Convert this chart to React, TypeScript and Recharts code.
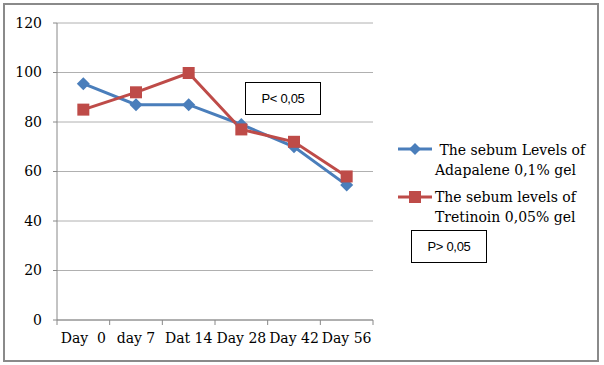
import { LineChart, Line, XAxis, YAxis, CartesianGrid } from 'recharts';

const days = ['Day  0', 'day 7', 'Dat 14', 'Day 28', 'Day 42', 'Day 56'];
const adapalene = [95.5, 87, 87, 79, 70, 54.5];
const tretinoin = [85, 92, 99.8, 77, 72, 58];
const yTicks = [0, 20, 40, 60, 80, 100, 120];

const data = days.map((d, i) => ({ day: d, adapalene: adapalene[i], tretinoin: tretinoin[i] }));

const BLUE = '#4a7ebb';
const RED = '#be4b48';
const SERIF = '"DejaVu Serif", serif';
const SANS = '"Liberation Sans", Arial, sans-serif';
const HALF_BAND = 316 / 12;

const Diamond = (props: any) => {
    const { cx, cy, index } = props;
    const r = 6.5;
    return (
        <polygon
            key={`dia-${index}`}
            points={`${cx},${cy - r} ${cx + r},${cy} ${cx},${cy + r} ${cx - r},${cy}`}
            fill={BLUE}
        />
    );
};

const Square = (props: any) => {
    const { cx, cy, index } = props;
    const s = 6;
    return <rect key={`sq-${index}`} x={cx - s} y={cy - s} width={s * 2} height={s * 2} fill={RED} />;
};

const XTick = (props: any) => {
    const { x, y, payload, index } = props;
    return (
        <g>
            <line x1={x - HALF_BAND} y1={y} x2={x - HALF_BAND} y2={y + 5} stroke="#888" />
            {index === days.length - 1 && (
                <line x1={x + HALF_BAND} y1={y} x2={x + HALF_BAND} y2={y + 5} stroke="#888" />
            )}
            <text
                x={x}
                y={y + 23}
                textAnchor="middle"
                fill="#000"
                fontSize={14}
                fontFamily={SERIF}
                style={{ whiteSpace: 'pre' }}
            >
                {payload.value}
            </text>
        </g>
    );
};

const boxStyle: React.CSSProperties = {
    position: 'absolute',
    border: '1.5px solid #000',
    background: '#fff',
    fontFamily: SANS,
    fontSize: 13,
    color: '#000',
    display: 'flex',
    alignItems: 'center',
    justifyContent: 'center',
    boxSizing: 'border-box',
    letterSpacing: '-0.3px',
};

const legendText: React.CSSProperties = {
    position: 'absolute',
    fontFamily: SERIF,
    fontSize: 14,
    color: '#000',
    whiteSpace: 'pre',
    lineHeight: '20px',
};

export default function App() {
    return (
        <div style={{ position: 'absolute', left: 0, top: 0, width: 604, height: 365, background: '#fff' }}>
            <div
                style={{
                    position: 'absolute',
                    left: 3,
                    top: 3,
                    width: 596,
                    height: 359,
                    border: '2px solid #8a8a8a',
                    boxSizing: 'border-box',
                }}
            />
            <div style={{ position: 'absolute', left: 0, top: 0 }}>
                <LineChart width={604} height={365} data={data} margin={{ top: 23, right: 231, left: 0, bottom: 15 }}>
                    <CartesianGrid vertical={false} stroke="#b0b0b0" />
                    <XAxis
                        dataKey="day"
                        scale="band"
                        height={30}
                        tickLine={false}
                        tickSize={0}
                        tickMargin={0}
                        axisLine={{ stroke: '#888' }}
                        tick={<XTick />}
                        interval={0}
                    />
                    <YAxis
                        width={57}
                        domain={[0, 120]}
                        ticks={yTicks}
                        tickSize={4}
                        tickMargin={11}
                        axisLine={{ stroke: '#888' }}
                        tickLine={{ stroke: '#888' }}
                        tick={{ fill: '#000', fontSize: 14, fontFamily: SERIF }}
                    />
                    <Line
                        dataKey="adapalene"
                        stroke={BLUE}
                        strokeWidth={3}
                        dot={Diamond}
                        activeDot={false}
                        isAnimationActive={false}
                    />
                    <Line
                        dataKey="tretinoin"
                        stroke={RED}
                        strokeWidth={3}
                        dot={Square}
                        activeDot={false}
                        isAnimationActive={false}
                    />
                </LineChart>
            </div>
            <div style={{ ...boxStyle, left: 245, top: 82, width: 76, height: 33 }}>P&lt; 0,05</div>
            <div style={{ ...boxStyle, left: 411, top: 230, width: 76, height: 33 }}>P&gt; 0,05</div>

            <svg style={{ position: 'absolute', left: 396, top: 140 }} width={40} height={70}>
                <line x1={2} y1={9} x2={36} y2={9} stroke={BLUE} strokeWidth={3} />
                <polygon points="19,3 25,9 19,15 13,9" fill={BLUE} />
                <line x1={2} y1={57} x2={36} y2={57} stroke={RED} strokeWidth={3} />
                <rect x={13} y={51} width={12} height={12} fill={RED} />
            </svg>
            <div style={{ ...legendText, left: 435, top: 140 }}>{' The sebum Levels of\nAdapalene 0,1% gel'}</div>
            <div style={{ ...legendText, left: 435, top: 187 }}>{'The sebum levels of\nTretinoin 0,05% gel'}</div>
        </div>
    );
}
